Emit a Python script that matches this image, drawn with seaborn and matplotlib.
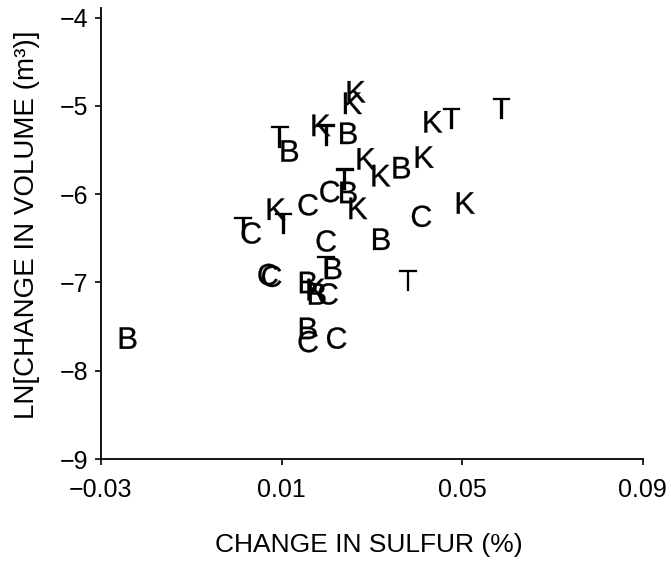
import pandas as pd
import matplotlib
matplotlib.use('Agg')
import matplotlib.pyplot as plt
import seaborn as sns

# point values (letter = group code)
kinds = ['B', 'K', 'K', 'K', 'T', 'B', 'T', 'B', 'K', 'K',
         'B', 'K', 'T', 'C', 'B', 'K', 'C', 'K', 'T', 'T',
         'C', 'K', 'T', 'T', 'C', 'K', 'C', 'B', 'T', 'B',
         'C', 'C', 'B', 'K', 'B', 'C', 'T', 'B', 'C', 'C']
sulfur = [-0.0240, 0.0266, 0.0258, 0.0188, 0.0199, 0.0248, 0.0096, 0.0118, 0.0288, 0.0321,
          0.0366, 0.0417, 0.0240, 0.0207, 0.0248, 0.0270, 0.0159, 0.0089, 0.0104, 0.0015,
          0.0033, 0.0436, 0.0476, 0.0587, 0.0410, 0.0508, 0.0199, 0.0321, 0.0199, 0.0214,
          0.0070, 0.0078, 0.0159, 0.0177, 0.0179, 0.0203, 0.0380, 0.0159, 0.0159, 0.0222]
ln_volume = [-7.63, -4.84, -4.97, -5.22, -5.33, -5.31, -5.35, -5.51, -5.60, -5.79,
             -5.70, -5.58, -5.83, -5.97, -5.98, -6.16, -6.12, -6.17, -6.33, -6.38,
             -6.44, -5.18, -5.14, -5.03, -6.25, -6.10, -6.53, -6.51, -6.82, -6.84,
             -6.91, -6.93, -7.00, -7.08, -7.13, -7.13, -6.98, -7.52, -7.67, -7.63]

x_ticks = [-0.03, 0.01, 0.05, 0.09]
x_ticklabels = ['\u22120.03', '0.01', '0.05', '0.09']
y_ticks = [-9, -8, -7, -6, -5, -4]

df = pd.DataFrame({'kind': kinds, 'sulfur': sulfur, 'ln_volume': ln_volume})

sns.set_style('ticks')
plt.rcParams['font.family'] = ['Liberation Sans', 'DejaVu Sans']
plt.rcParams['mathtext.default'] = 'regular'
plt.rcParams['text.color'] = 'black'
plt.rcParams['axes.labelcolor'] = 'black'

fig = plt.figure(figsize=(6.71, 5.66), dpi=100)
ax = fig.add_axes([0.1505, 0.189, 0.8075, 0.797])

letter_markers = {k: '$' + k + '$' for k in ['B', 'C', 'K', 'T']}
sns.scatterplot(data=df, x='sulfur', y='ln_volume', style='kind',
                markers=letter_markers, s=240, color='black',
                edgecolor='black', linewidth=0.2, legend=False, ax=ax)

ax.set_xlim(-0.03, 0.09)
ax.set_ylim(-9, -3.89)
ax.set_xticks(x_ticks)
ax.set_xticklabels(x_ticklabels)
ax.set_yticks(y_ticks)
ax.set_yticklabels(['\u2212' + str(abs(v)) for v in y_ticks])
sns.despine(ax=ax)
for s in ['left', 'bottom']:
    ax.spines[s].set_linewidth(1.3)
    ax.spines[s].set_color('black')
ax.tick_params(axis='both', direction='out', length=4, width=1.2,
               labelsize=18, colors='black')
ax.tick_params(axis='x', pad=10)
ax.tick_params(axis='y', pad=5)

ax.set_xlabel('CHANGE IN SULFUR (%)', fontsize=19)
ax.set_ylabel('LN[CHANGE IN VOLUME (m\u00b3)]', fontsize=20)
ax.xaxis.set_label_coords(0.494, -0.164)
ax.yaxis.set_label_coords(-0.1125, 0.52)

fig.savefig('out.png', dpi=100)
